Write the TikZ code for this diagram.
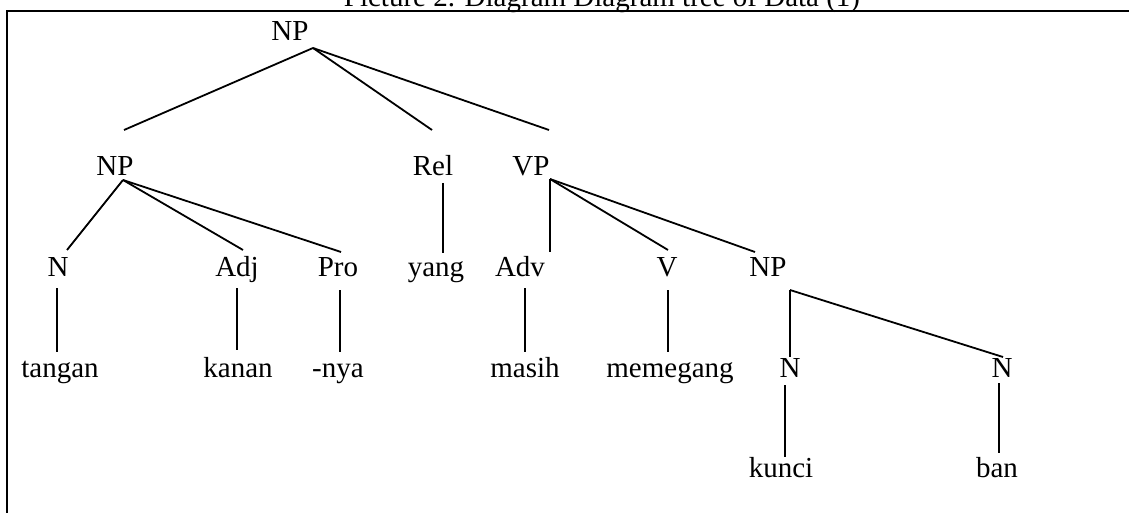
\documentclass[tikz,border=0pt]{standalone}
\usepackage{fontspec}
\setmainfont{Liberation Serif}
\begin{document}
\begin{tikzpicture}[x=1pt,y=-1pt,
  lbl/.style={inner sep=0pt, anchor=base, font=\fontsize{29}{34}\selectfont},
  edge/.style={line width=1.8pt},
  frame/.style={line width=2pt}]
\useasboundingbox (0,0) rectangle (1129,513);
\clip (0,0) rectangle (1129,513);

% caption and frame
\node[lbl] (cap) at (602,7) {Picture 2. Diagram Diagram tree of Data (1)};
\coordinate (fbl) at (7,513);
\coordinate (ftl) at (7,11);
\coordinate (ftr) at (1129,11);
\draw[frame] (fbl) -- (ftl) -- (ftr);

% labels
\node[lbl] (np0) at (290,41) {NP};

\node[lbl] (np1) at (115,176) {NP};
\node[lbl] (rel) at (433,176) {Rel};
\node[lbl] (vp)  at (531,176) {VP};

\node[lbl] (n1)  at (58,276)  {N};
\node[lbl] (adj) at (237,276) {Adj};
\node[lbl] (pro) at (338,276) {Pro};
\node[lbl] (yang) at (436,276) {yang};
\node[lbl] (adv) at (520,276) {Adv};
\node[lbl] (v)   at (667,276) {V};
\node[lbl] (np2) at (768,276) {NP};

\node[lbl] (tangan) at (60,377)  {tangan};
\node[lbl] (kanan)  at (238,377) {kanan};
\node[lbl] (nya)    at (338,377) {-nya};
\node[lbl] (masih)  at (525,377) {masih};
\node[lbl] (memegang) at (670,377) {memegang};
\node[lbl] (n2) at (790,377)  {N};
\node[lbl] (n3) at (1002,377) {N};

\node[lbl] (kunci) at (781,477) {kunci};
\node[lbl] (ban)   at (997,477) {ban};

% branch points
\coordinate (np0-b) at (313,48);
\coordinate (np1-t) at (124,130);
\coordinate (rel-t) at (432,130);
\coordinate (vp-t)  at (549,130);

\coordinate (np1-b) at (123,180);
\coordinate (n1-t)  at (67,250);
\coordinate (adj-t) at (243,250);
\coordinate (pro-t) at (341,252);

\coordinate (rel-b) at (443,183);
\coordinate (yang-t) at (443,253);

\coordinate (vp-b)  at (550,179);
\coordinate (adv-t) at (550,252);
\coordinate (v-t)   at (668,250);
\coordinate (np2-t) at (755,252);

\coordinate (n1-b)  at (57,288);
\coordinate (tangan-t) at (57,352);
\coordinate (adj-b) at (237,288);
\coordinate (kanan-t) at (237,350);
\coordinate (pro-b) at (340,290);
\coordinate (nya-t) at (340,352);
\coordinate (adv-b) at (525,288);
\coordinate (masih-t) at (525,352);
\coordinate (v-b)   at (668,290);
\coordinate (memegang-t) at (668,352);

\coordinate (np2-b) at (790,290);
\coordinate (n2-t)  at (790,357);
\coordinate (n3-t)  at (1003,357);

\coordinate (n2-b) at (785,385);
\coordinate (kunci-t) at (785,457);
\coordinate (n3-b) at (999,383);
\coordinate (ban-t) at (999,453);

% branches
\draw[edge] (np0-b) -- (np1-t);
\draw[edge] (np0-b) -- (rel-t);
\draw[edge] (np0-b) -- (vp-t);

\draw[edge] (np1-b) -- (n1-t);
\draw[edge] (np1-b) -- (adj-t);
\draw[edge] (np1-b) -- (pro-t);

\draw[edge] (rel-b) -- (yang-t);

\draw[edge] (vp-b) -- (adv-t);
\draw[edge] (vp-b) -- (v-t);
\draw[edge] (vp-b) -- (np2-t);

\draw[edge] (n1-b) -- (tangan-t);
\draw[edge] (adj-b) -- (kanan-t);
\draw[edge] (pro-b) -- (nya-t);
\draw[edge] (adv-b) -- (masih-t);
\draw[edge] (v-b) -- (memegang-t);

\draw[edge] (np2-b) -- (n2-t);
\draw[edge] (np2-b) -- (n3-t);

\draw[edge] (n2-b) -- (kunci-t);
\draw[edge] (n3-b) -- (ban-t);
\end{tikzpicture}
\end{document}
